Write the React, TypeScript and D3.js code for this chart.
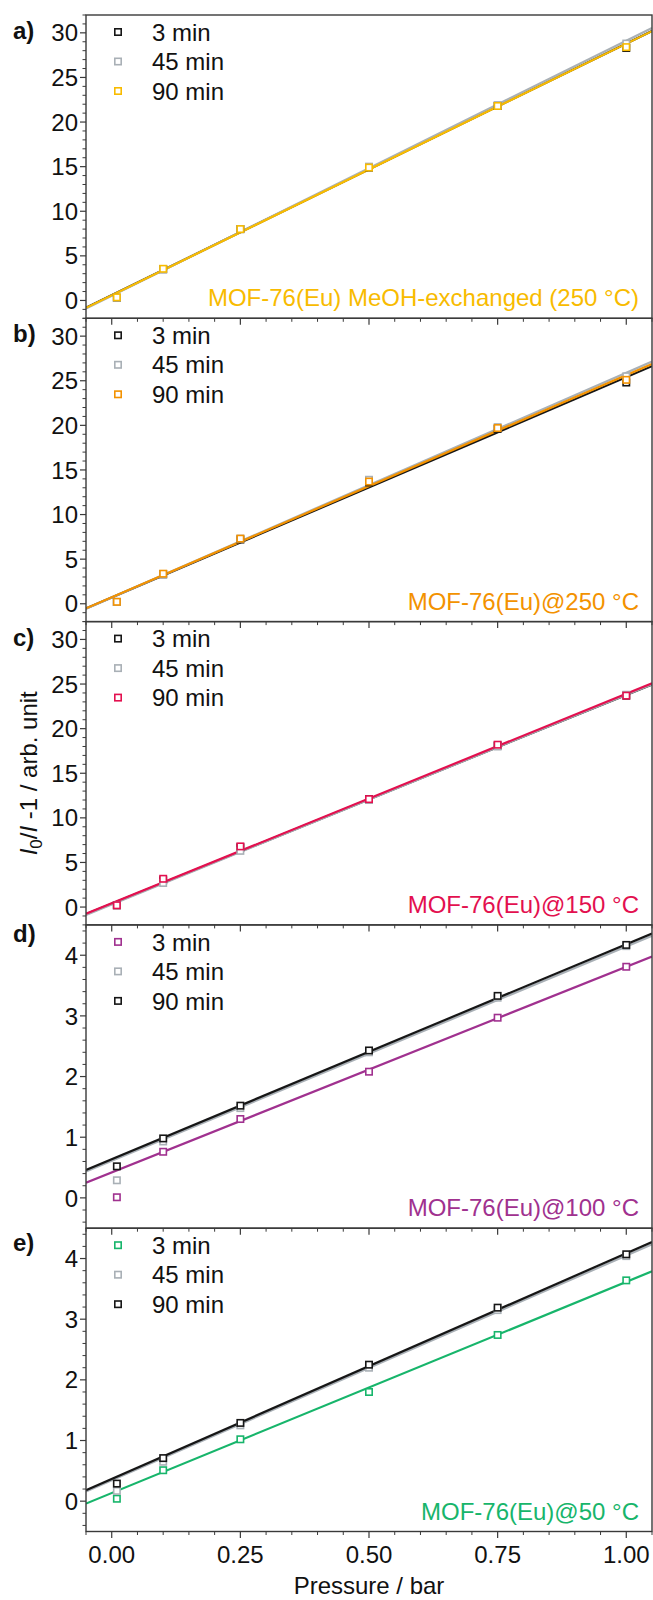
import React from 'react';
import * as d3 from 'd3';

// ---- data ----
const pressure = [0.01, 0.1, 0.25, 0.5, 0.75, 1.0];
const seriesNames = ['3 min', '45 min', '90 min'];
const xMajorTicks = [0, 0.25, 0.5, 0.75, 1.0];
const xTickLabels = ['0.00', '0.25', '0.50', '0.75', '1.00'];

// panel a
const a3 = [0.3, 3.5, 8.0, 14.9, 21.8, 28.3];
const a45 = [0.3, 3.5, 8.0, 15.0, 21.9, 28.8];
const a90 = [0.35, 3.55, 8.0, 14.9, 21.8, 28.4];
const aFits = [[28.2, 0.6], [28.6, 0.52], [28.2, 0.58]]; // [slope, intercept]

// panel b
const b3 = [0.2, 3.3, 7.2, 13.6, 19.6, 24.8];
const b45 = [0.2, 3.3, 7.3, 13.9, 19.8, 25.5];
const b90 = [0.22, 3.37, 7.3, 13.7, 19.7, 25.1];
const bFits = [[24.7, 0.7], [25.2, 0.7], [24.9, 0.73]];

// panel c
const c3 = [0.2, 3.0, 6.7, 12.1, 18.1, 23.7];
const c45 = [0.2, 2.7, 6.3, 12.0, 18.0, 23.8];
const c90 = [0.2, 3.17, 6.8, 12.1, 18.2, 23.7];
const cFits = [[23.4, 0.38], [23.5, 0.3], [23.5, 0.42]];

// panel d
const d3min = [0.01, 0.76, 1.30, 2.08, 2.97, 3.81];
const d45 = [0.29, 0.93, 1.48, 2.40, 3.30, 4.15];
const d90 = [0.52, 0.98, 1.52, 2.43, 3.33, 4.17];
const dFits = [[3.39, 0.42], [3.535, 0.61], [3.545, 0.637]];

// panel e
const e3 = [0.04, 0.51, 1.02, 1.80, 2.74, 3.64];
const e45 = [0.17, 0.65, 1.25, 2.20, 3.15, 4.04];
const e90 = [0.29, 0.71, 1.29, 2.25, 3.19, 4.07];
const eFits = [[3.48, 0.134], [3.705, 0.345], [3.72, 0.366]];

const panelLetters = ['a)', 'b)', 'c)', 'd)', 'e)'];
const sampleNames = [
  'MOF-76(Eu) MeOH-exchanged (250 °C)',
  'MOF-76(Eu)@250 °C',
  'MOF-76(Eu)@150 °C',
  'MOF-76(Eu)@100 °C',
  'MOF-76(Eu)@50 °C',
];
const highDomain = [-2, 32];
const lowDomain = [-0.5, 4.5];

// ---- styles ----
const BLACK = '#161616';
const GRAY = '#a9b0b6';
const GOLD = '#f8bb00';
const ORANGE = '#f39200';
const CRIMSON = '#e3104f';
const PURPLE = '#a0318f';
const GREEN = '#17b56b';
const AXIS = '#3a3a3a';
const FONT = "'Liberation Sans', Arial, Helvetica, sans-serif";

const panels = [
  { values: [a3, a45, a90], fits: aFits, colors: [BLACK, GRAY, GOLD], domain: highDomain, major: 5, minor: 1, accent: GOLD, labelDy: 23.5 },
  { values: [b3, b45, b90], fits: bFits, colors: [BLACK, GRAY, ORANGE], domain: highDomain, major: 5, minor: 1, accent: ORANGE, labelDy: 23.7 },
  { values: [c3, c45, c90], fits: cFits, colors: [BLACK, GRAY, CRIMSON], domain: highDomain, major: 5, minor: 1, accent: CRIMSON, labelDy: 24.3 },
  { values: [d3min, d45, d90], fits: dFits, colors: [PURPLE, GRAY, BLACK], domain: lowDomain, major: 1, minor: 0.2, accent: PURPLE, labelDy: 17 },
  { values: [e3, e45, e90], fits: eFits, colors: [GREEN, GRAY, BLACK], domain: lowDomain, major: 1, minor: 0.2, accent: GREEN, labelDy: 22.7 },
];

function ticksBetween(lo: number, hi: number, step: number) {
  const out: number[] = [];
  const start = Math.ceil(lo / step - 1e-9);
  const end = Math.floor(hi / step + 1e-9);
  for (let k = start; k <= end; k++) out.push(+(k * step).toFixed(6));
  return out;
}

export default function App() {
  const W = 653, H = 1600;
  const left = 86, right = 652, top0 = 15, ph = 303.3;
  const fs = 24;
  const x = d3.scaleLinear().domain([-0.05, 1.05]).range([left, right]);
  const xMinor = ticksBetween(-0.05, 1.05, 0.05).filter(v => !xMajorTicks.some(m => Math.abs(m - v) < 1e-6));
  const bottomAll = top0 + 5 * ph;
  const ms = 6.4;

  return (
    <svg width={W} height={H} style={{ position: 'absolute', left: 0, top: 0, background: '#fff' }} fontFamily={FONT}>
      <rect x={0} y={0} width={W} height={H} fill="#fff" />
      {panels.map((p, i) => {
        const t = top0 + i * ph;
        const b = t + ph;
        const y = d3.scaleLinear().domain(p.domain).range([b, t]);
        const majors = ticksBetween(p.domain[0], p.domain[1], p.major).filter(v => v >= 0);
        const minors = ticksBetween(p.domain[0], p.domain[1], p.minor).filter(v => !majors.some(m => Math.abs(m - v) < 1e-6));
        const clipId = `clip${i}`;
        return (
          <g key={i}>
            <defs>
              <clipPath id={clipId}>
                <rect x={left} y={t} width={right - left} height={ph} />
              </clipPath>
            </defs>
            <g clipPath={`url(#${clipId})`}>
              {p.fits.map((f, s) => {
                const xs = [-0.05, 1.05];
                const path = d3.line<number>().x(v => x(v)).y(v => y(f[0] * v + f[1]))(xs) || '';
                return <path key={s} d={path} fill="none" stroke={p.colors[s]} strokeWidth={2.2} />;
              })}
              {p.values.map((vals, s) => (
                <g key={s}>
                  {vals.map((v, k) => (
                    <rect key={k} x={x(pressure[k]) - ms / 2} y={y(v) - ms / 2} width={ms} height={ms}
                      fill="#fff" stroke={p.colors[s]} strokeWidth={1.6} />
                  ))}
                </g>
              ))}
            </g>
            <rect x={left} y={t} width={right - left} height={ph} fill="none" stroke={AXIS} strokeWidth={1.4} />
            {majors.map(v => (
              <g key={'M' + v}>
                <line x1={left - 6} x2={left} y1={y(v)} y2={y(v)} stroke={AXIS} strokeWidth={1.2} />
                <text x={left - 8} y={y(v)} dy="0.36em" textAnchor="end" fontSize={fs} fill="#111">{v}</text>
              </g>
            ))}
            {minors.map(v => (
              <line key={'m' + v} x1={left - 3.5} x2={left} y1={y(v)} y2={y(v)} stroke={AXIS} strokeWidth={1} />
            ))}
            {xMajorTicks.map(v => (
              <line key={'xM' + v} x1={x(v)} x2={x(v)} y1={b} y2={b + 6.5} stroke={AXIS} strokeWidth={1.2} />
            ))}
            {xMinor.map(v => (
              <line key={'xm' + v} x1={x(v)} x2={x(v)} y1={b} y2={b + 3.5} stroke={AXIS} strokeWidth={1} />
            ))}
            {seriesNames.map((n, s) => {
              const ly = t + 17 + s * 29.5;
              return (
                <g key={n}>
                  <rect x={118 - ms / 2} y={ly - ms / 2} width={ms} height={ms} fill="#fff" stroke={p.colors[s]} strokeWidth={1.6} />
                  <text x={152} y={ly} dy="0.36em" fontSize={fs} fill="#111">{n}</text>
                </g>
              );
            })}
            <text x={639} y={b - 12} textAnchor="end" fontSize={fs} fill={p.accent}>{sampleNames[i]}</text>
            <text x={13} y={t + p.labelDy} fontSize={fs} fontWeight="bold" fill="#111">{panelLetters[i]}</text>
          </g>
        );
      })}
      {xMajorTicks.map((v, k) => (
        <text key={'xl' + v} x={x(v)} y={bottomAll + 31} textAnchor="middle" fontSize={fs} fill="#111">{xTickLabels[k]}</text>
      ))}
      <text x={(left + right) / 2} y={bottomAll + 62} textAnchor="middle" fontSize={fs} fill="#111">Pressure / bar</text>
      <text transform={`translate(37, ${(top0 + bottomAll) / 2}) rotate(-90)`} textAnchor="middle" fontSize={fs} fill="#111">
        <tspan fontStyle="italic">I</tspan>
        <tspan fontSize={fs * 0.7} dy="5">0</tspan>
        <tspan dy="-5">/</tspan>
        <tspan fontStyle="italic">I</tspan>
        <tspan> -1 / arb. unit</tspan>
      </text>
    </svg>
  );
}
